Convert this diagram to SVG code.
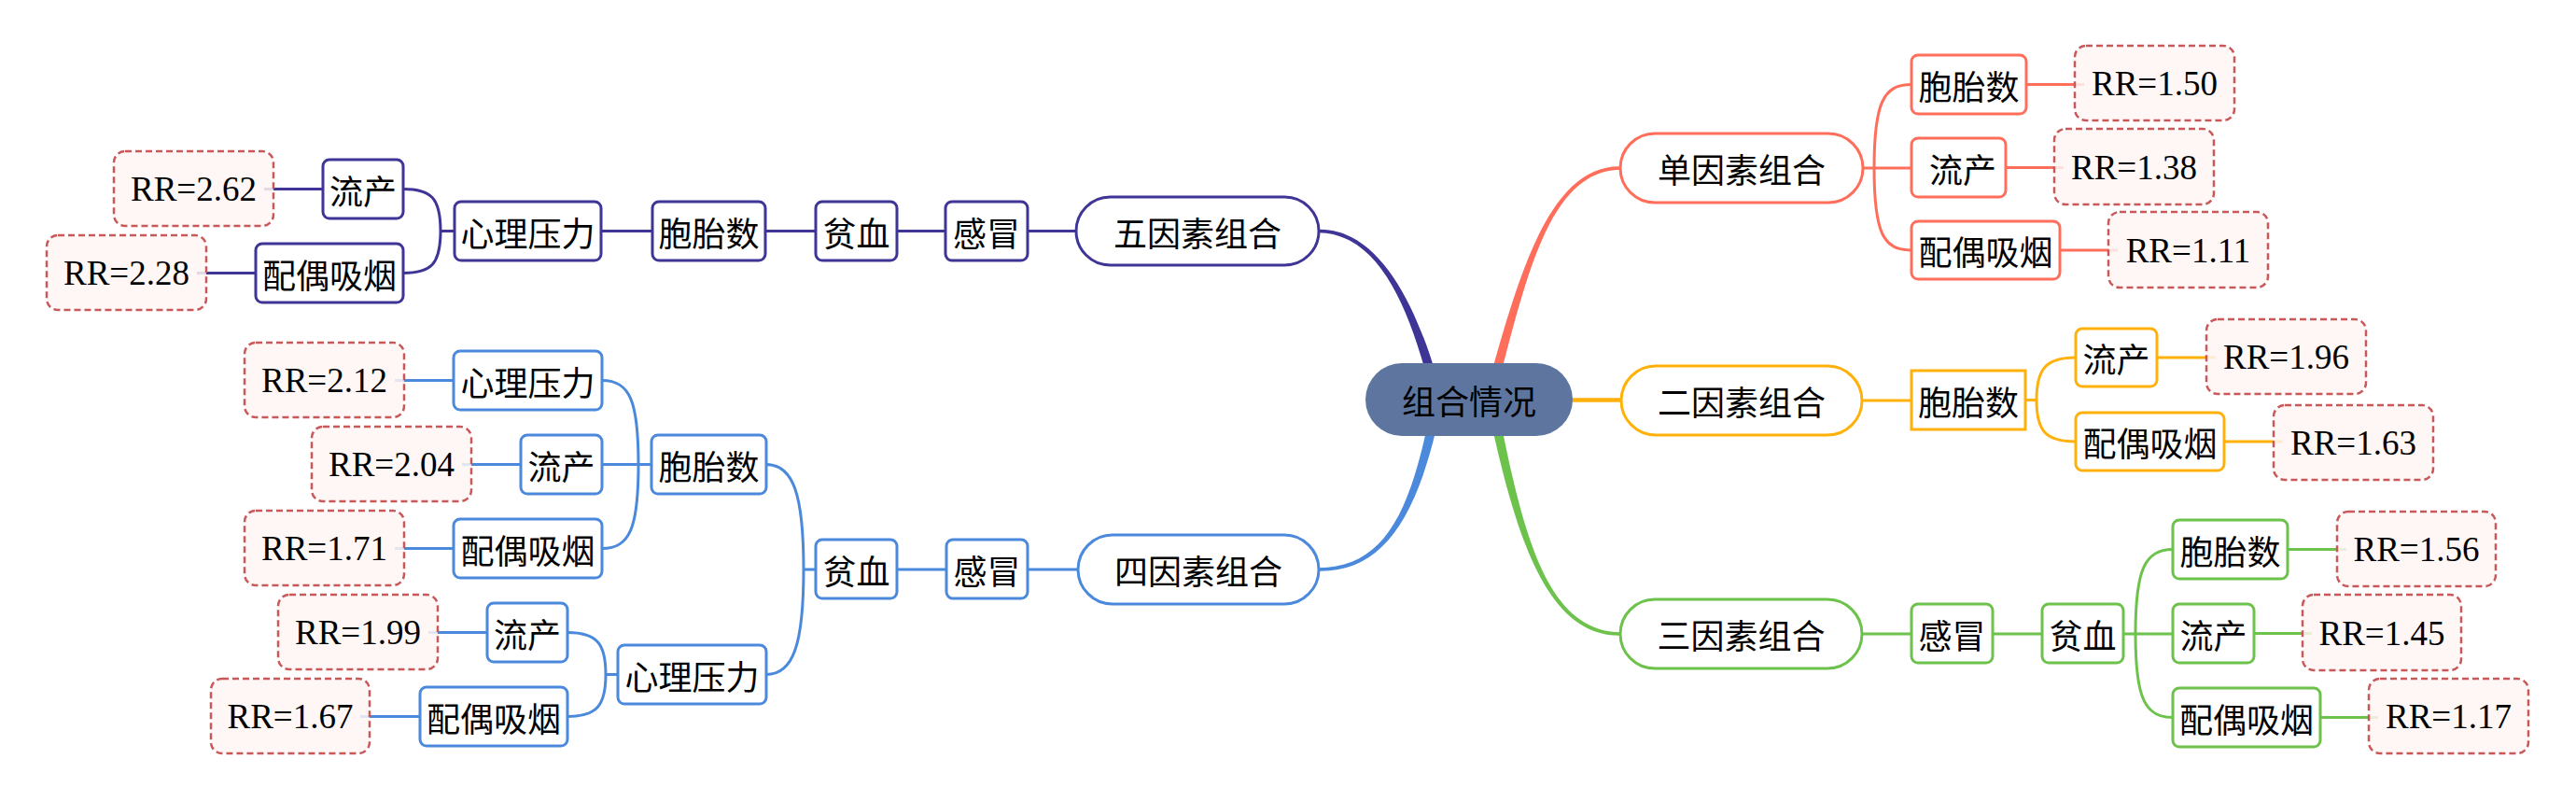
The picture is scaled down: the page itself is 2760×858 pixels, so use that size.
<svg xmlns="http://www.w3.org/2000/svg" width="2760" height="858" viewBox="0 0 2760 858">
<style>
.c path{fill:none;stroke-width:3}
.pu{stroke:#3F3597}
.bl{stroke:#4A89DC}
.re{stroke:#FF6E5A}
.ye{stroke:#FFB10A}
.gr{stroke:#6CC24A}
.n{fill:#fff;stroke-width:3}
.rr{fill:#FEF6F3;fill-opacity:0.85;stroke:#C9585A;stroke-width:2.5;stroke-dasharray:7 4}
.t{font-family:"Noto Sans CJK SC","Noto Sans",sans-serif;font-size:36px;text-anchor:middle;dominant-baseline:central;fill:#000}
.rt{font-family:"Liberation Serif",serif;font-size:37px;text-anchor:middle;fill:#000}
</style>
<rect width="2760" height="858" fill="#fff"/>
<g id="connectors" class="c">
  <path d="M1413 249.25 C1474 250.33 1506.2 321.1 1528.2 401.4 L1537.8 398.6 C1513.8 318.9 1474 244.67 1413 245.75 Z" style="fill:#3F3597;stroke:none"/>
  <path d="M1736 178.25 C1662 177.17 1629.2 289 1598.2 398.7 L1607.8 401.3 C1636.8 291 1662 182.83 1736 181.75 Z" style="fill:#FF6E5A;stroke:none"/>
  <path d="M1736 677.25 C1660 676.17 1633.8 579.2 1608.9 457 L1599.1 459 C1626.2 580.8 1660 681.83 1736 680.75 Z" style="fill:#6CC24A;stroke:none"/>
  <path d="M1413 611.75 C1478 612.83 1514.8 560.9 1538.9 459.1 L1529.1 456.9 C1507.2 559.1 1478 607.17 1413 608.25 Z" style="fill:#4A89DC;stroke:none"/>
  <path class="ye" d="M1680 428.5 H1737" style="stroke-width:4.5"/>
  <path class="pu" d="M1153 247.5 H1101 M1013 247.5 H961 M874 247.5 H820 M699 247.5 H644 M487 247.5 H472 M472 247.5 C472 212 462 202.5 432 202.5 M472 247.5 C472 283 462 292.5 432 292.5 M346 202.5 H283 M274 292.5 H211"/>
  <path class="bl" d="M1155 610 H1101 M1014 610 H961 M874 610 H861 M861 610 C861 530 850 497.5 821 497.5 M861 610 C861 690 850 722.5 821 722.5 M698 497.5 H645 M684 497.5 C684 430 675 407.5 645 407.5 M684 497.5 C684 565 675 587.5 645 587.5 M662 722.5 H649 M649 722.5 C649 690 640 677.5 608 677.5 M649 722.5 C649 755 640 767.5 608 767.5 M486 407.5 H423 M558 497.5 H495 M486 587.5 H423 M522 677.5 H459 M450 767.5 H386"/>
  <path class="re" d="M1996 180 H2048 M2008 180 C2008 110 2018 90.5 2048 90.5 M2008 180 C2008 250 2018 268 2048 268 M2171 90.5 H2233 M2149 179.5 H2211 M2207 268 H2269"/>
  <path class="ye" d="M1995 429 H2048 M2170 428.5 H2182 M2182 428.5 C2182 395 2192 383 2224 383 M2182 428.5 C2182 462 2192 473 2224 473 M2311 383 H2374 M2383 473 H2446"/>
  <path class="gr" d="M1995 679 H2048 M2135 679 H2188 M2275 679 H2328 M2288 679 C2288 610 2298 588.5 2328 588.5 M2288 679 C2288 748 2298 768.5 2328 768.5 M2451 588.5 H2514 M2415 678.5 H2477 M2486 768.5 H2548"/>
</g>
<g id="root"><rect x="1463" y="389" width="222" height="78" rx="39" fill="#5E769F"/><text class="t" x="1574" y="428">组合情况</text></g>
<g id="n5"><rect class="n pu" x="1153" y="211" width="260" height="73" rx="36.5"/><text class="t" x="1283" y="247.5">五因素组合</text></g>
<g id="n5-gm"><rect class="n pu" x="1013" y="216" width="88" height="63" rx="7"/><text class="t" x="1057" y="247.5">感冒</text></g>
<g id="n5-px"><rect class="n pu" x="874" y="216" width="87" height="63" rx="7"/><text class="t" x="917.5" y="247.5">贫血</text></g>
<g id="n5-tt"><rect class="n pu" x="699" y="216" width="121" height="63" rx="7"/><text class="t" x="759.5" y="247.5">胞胎数</text></g>
<g id="n5-xl"><rect class="n pu" x="487" y="216" width="157" height="63" rx="7"/><text class="t" x="565.5" y="247.5">心理压力</text></g>
<g id="n5-lc"><rect class="n pu" x="346" y="171" width="86" height="63" rx="7"/><text class="t" x="389" y="202.5">流产</text></g>
<g id="n5-py"><rect class="n pu" x="274" y="261" width="158" height="63" rx="7"/><text class="t" x="353" y="292.5">配偶吸烟</text></g>
<g id="rr-262"><rect class="rr" x="122" y="162" width="171" height="80" rx="12"/><text class="rt" x="207.5" y="215">RR=2.62</text></g>
<g id="rr-228"><rect class="rr" x="50" y="252" width="171" height="80" rx="12"/><text class="rt" x="135.5" y="305">RR=2.28</text></g>
<g id="n4"><rect class="n bl" x="1155" y="573" width="258" height="74" rx="37"/><text class="t" x="1284" y="610">四因素组合</text></g>
<g id="n4-gm"><rect class="n bl" x="1014" y="578" width="87" height="63" rx="7"/><text class="t" x="1057.5" y="609.5">感冒</text></g>
<g id="n4-px"><rect class="n bl" x="874" y="578" width="87" height="63" rx="7"/><text class="t" x="917.5" y="609.5">贫血</text></g>
<g id="n4-tt"><rect class="n bl" x="698" y="466" width="123" height="63" rx="7"/><text class="t" x="759.5" y="497.5">胞胎数</text></g>
<g id="n4-tt-xl"><rect class="n bl" x="486" y="376" width="159" height="63" rx="7"/><text class="t" x="565.5" y="407.5">心理压力</text></g>
<g id="n4-tt-lc"><rect class="n bl" x="558" y="466" width="87" height="63" rx="7"/><text class="t" x="601.5" y="497.5">流产</text></g>
<g id="n4-tt-py"><rect class="n bl" x="486" y="556" width="159" height="63" rx="7"/><text class="t" x="565.5" y="587.5">配偶吸烟</text></g>
<g id="rr-212"><rect class="rr" x="262" y="367" width="171" height="80" rx="12"/><text class="rt" x="347.5" y="420">RR=2.12</text></g>
<g id="rr-204"><rect class="rr" x="334" y="457" width="171" height="80" rx="12"/><text class="rt" x="419.5" y="510">RR=2.04</text></g>
<g id="rr-171"><rect class="rr" x="262" y="547" width="171" height="80" rx="12"/><text class="rt" x="347.5" y="600">RR=1.71</text></g>
<g id="n4-xl"><rect class="n bl" x="662" y="691" width="159" height="63" rx="7"/><text class="t" x="741.5" y="722.5">心理压力</text></g>
<g id="n4-xl-lc"><rect class="n bl" x="522" y="646" width="86" height="63" rx="7"/><text class="t" x="565" y="677.5">流产</text></g>
<g id="n4-xl-py"><rect class="n bl" x="450" y="736" width="158" height="63" rx="7"/><text class="t" x="529" y="767.5">配偶吸烟</text></g>
<g id="rr-199"><rect class="rr" x="298" y="637" width="171" height="80" rx="12"/><text class="rt" x="383.5" y="690">RR=1.99</text></g>
<g id="rr-167"><rect class="rr" x="226" y="727" width="170" height="80" rx="12"/><text class="rt" x="311" y="780">RR=1.67</text></g>
<g id="n1"><rect class="n re" x="1736" y="143" width="260" height="74" rx="37"/><text class="t" x="1866" y="180">单因素组合</text></g>
<g id="n1-tt"><rect class="n re" x="2048" y="59" width="123" height="63" rx="7"/><text class="t" x="2109.5" y="90.5">胞胎数</text></g>
<g id="n1-lc"><rect class="n re" x="2048" y="148" width="101" height="63" rx="7"/><text class="t" x="2103" y="179.5">流产</text></g>
<g id="n1-py"><rect class="n re" x="2048" y="237" width="159" height="62" rx="7"/><text class="t" x="2127.5" y="268">配偶吸烟</text></g>
<g id="rr-150"><rect class="rr" x="2223" y="49" width="171" height="80" rx="12"/><text class="rt" x="2308.5" y="102">RR=1.50</text></g>
<g id="rr-138"><rect class="rr" x="2201" y="138" width="171" height="81" rx="12"/><text class="rt" x="2286.5" y="191.5">RR=1.38</text></g>
<g id="rr-111"><rect class="rr" x="2259" y="227" width="171" height="81" rx="12"/><text class="rt" x="2344.5" y="280.5">RR=1.11</text></g>
<g id="n2"><rect class="n ye" x="1737" y="392" width="258" height="74" rx="37"/><text class="t" x="1866" y="429">二因素组合</text></g>
<g id="n2-tt"><rect class="n ye" x="2048" y="397" width="122" height="63"/><text class="t" x="2109" y="428.5">胞胎数</text></g>
<g id="n2-lc"><rect class="n ye" x="2224" y="352" width="87" height="62" rx="7"/><text class="t" x="2267.5" y="383">流产</text></g>
<g id="n2-py"><rect class="n ye" x="2224" y="442" width="159" height="62" rx="7"/><text class="t" x="2303.5" y="473">配偶吸烟</text></g>
<g id="rr-196"><rect class="rr" x="2364" y="342" width="171" height="80" rx="12"/><text class="rt" x="2449.5" y="395">RR=1.96</text></g>
<g id="rr-163"><rect class="rr" x="2436" y="434" width="171" height="80" rx="12"/><text class="rt" x="2521.5" y="487">RR=1.63</text></g>
<g id="n3"><rect class="n gr" x="1736" y="642" width="259" height="74" rx="37"/><text class="t" x="1865.5" y="679">三因素组合</text></g>
<g id="n3-gm"><rect class="n gr" x="2048" y="647" width="87" height="63" rx="7"/><text class="t" x="2091.5" y="678.5">感冒</text></g>
<g id="n3-px"><rect class="n gr" x="2188" y="647" width="87" height="63" rx="7"/><text class="t" x="2231.5" y="678.5">贫血</text></g>
<g id="n3-tt"><rect class="n gr" x="2328" y="557" width="123" height="63" rx="7"/><text class="t" x="2389.5" y="588.5">胞胎数</text></g>
<g id="n3-lc"><rect class="n gr" x="2328" y="647" width="87" height="63" rx="7"/><text class="t" x="2371.5" y="678.5">流产</text></g>
<g id="n3-py"><rect class="n gr" x="2328" y="737" width="158" height="63" rx="7"/><text class="t" x="2407" y="768.5">配偶吸烟</text></g>
<g id="rr-156"><rect class="rr" x="2504" y="548" width="170" height="80" rx="12"/><text class="rt" x="2589" y="601">RR=1.56</text></g>
<g id="rr-145"><rect class="rr" x="2467" y="637" width="170" height="81" rx="12"/><text class="rt" x="2552" y="690.5">RR=1.45</text></g>
<g id="rr-117"><rect class="rr" x="2538" y="727" width="171" height="80" rx="12"/><text class="rt" x="2623.5" y="780">RR=1.17</text></g>
</svg>
